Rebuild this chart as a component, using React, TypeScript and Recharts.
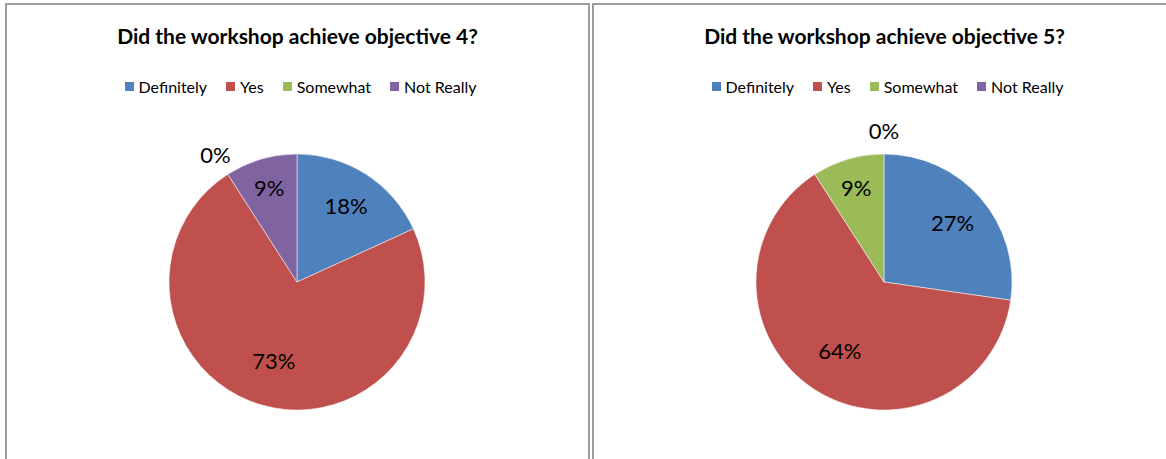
import { PieChart, Pie, Cell } from "recharts";

// ─── Data ─────────────────────────────────────────────────────────────────────

const CATEGORIES = ["Definitely", "Yes", "Somewhat", "Not Really"];
const COLORS = ["#4F81BD", "#C0504D", "#9BBB59", "#8064A2"];
const OBJECTIVE_4 = [2, 8, 0, 1];
const OBJECTIVE_5 = [3, 7, 1, 0];
const TITLES = ["Did the workshop achieve objective 4?", "Did the workshop achieve objective 5?"];

const FONT = "Lato, 'Open Sans', sans-serif";
const RAD = Math.PI / 180;

function renderLabel(props: any) {
  const { cx, cy, midAngle, outerRadius, percent } = props;
  // zero slices get pushed outside like Excel does
  const k = percent === 0 ? 1.18 : percent < 0.15 ? 0.77 : percent > 0.5 ? 0.64 : 0.71;
  const r = outerRadius * k;
  const x = cx + r * Math.cos(-midAngle * RAD);
  const y = cy + r * Math.sin(-midAngle * RAD);
  return (
    <text x={x} y={y} textAnchor="middle" dominantBaseline="central" fill="#000" fontSize={22} fontFamily={FONT}>
      {`${Math.round(percent * 100)}%`}
    </text>
  );
}

function LegendRow() {
  return (
    <div style={{ display: "flex", justifyContent: "center", fontFamily: FONT, fontSize: 16, color: "#000", paddingLeft: 6 }}>
      {CATEGORIES.map((c, i) => (
        <div key={c} style={{ display: "flex", alignItems: "center", marginRight: i < CATEGORIES.length - 1 ? 19 : 0 }}>
          <span style={{ width: 9, height: 9, background: COLORS[i], marginRight: 5, display: "inline-block" }} />
          <span>{c}</span>
        </div>
      ))}
    </div>
  );
}

function Panel({ title, values, left }: { title: string; values: number[]; left: number }) {
  const data = CATEGORIES.map((name, i) => ({ name, value: values[i] }));
  return (
    <div
      style={{
        position: "absolute", left, top: 3, width: 585, height: 480,
        boxSizing: "border-box", border: "2px solid #9d9d9d", background: "#fff",
      }}
    >
      <div style={{ position: "absolute", top: 0, left: 0 }}>
        <PieChart width={581} height={460} margin={{ top: 0, right: 0, bottom: 0, left: 0 }}>
          <Pie
            data={data}
            dataKey="value"
            cx={290}
            cy={277}
            outerRadius={128}
            startAngle={90}
            endAngle={-270}
            stroke="#fff"
            strokeWidth={0.5}
            label={renderLabel}
            labelLine={false}
            isAnimationActive={false}
          >
            {data.map((d, i) => <Cell key={d.name} fill={COLORS[i]} />)}
          </Pie>
        </PieChart>
      </div>
      <div
        style={{
          position: "absolute", top: 18, left: 0, width: 581, textAlign: "center",
          fontFamily: FONT, fontWeight: 700, fontSize: 21, color: "#000",
        }}
      >
        {title}
      </div>
      <div style={{ position: "absolute", top: 72, left: 0, width: 581 }}>
        <LegendRow />
      </div>
    </div>
  );
}

export default function App() {
  return (
    <div style={{ position: "absolute", left: 0, top: 0, width: 1166, height: 459, overflow: "hidden", background: "#fff" }}>
      <Panel title={TITLES[0]} values={OBJECTIVE_4} left={5} />
      <Panel title={TITLES[1]} values={OBJECTIVE_5} left={592} />
    </div>
  );
}
